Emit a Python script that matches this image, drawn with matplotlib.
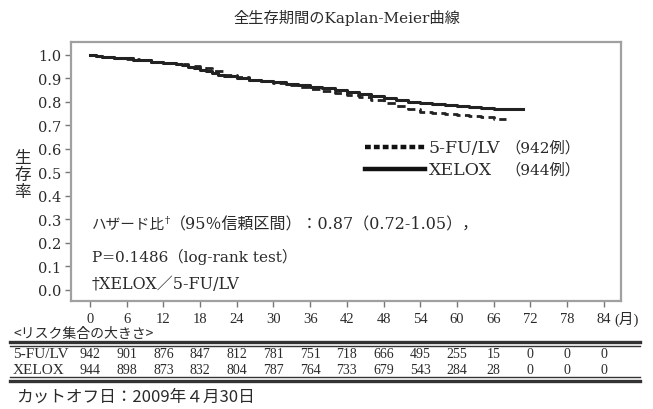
import matplotlib
matplotlib.use("Agg")
import matplotlib.pyplot as plt
import matplotlib.transforms as mtransforms
from matplotlib.lines import Line2D

plt.rcParams['font.family'] = ['DejaVu Serif', 'Noto Sans CJK JP', 'DejaVu Sans']
plt.rcParams['axes.unicode_minus'] = False
NARROW = ['Liberation Serif', 'Noto Sans CJK JP']
CJK = ['Noto Sans CJK JP', 'DejaVu Sans']

# 生存曲線 (読み取り値)
xelox_t = [0, 1, 2, 4, 6, 7, 8, 10, 12, 14, 15, 16, 17, 18, 19, 20, 21, 22, 24, 26,
           28, 30, 32, 34, 36, 38, 40, 42, 44, 46, 48, 50, 52, 54, 56, 58, 60, 62,
           64, 66, 70.8]
xelox_s = [1.0, .992, .988, .986, .984, .978, .975, .970, .966, .960, .955, .948, .942,
           .935, .928, .921, .915, .908, .901, .893, .887, .882, .876, .872, .864, .857,
           .850, .842, .834, .825, .816, .806, .797, .792, .788, .785, .781, .776, .772,
           .770, .770]
fulv_t = [0, 1, 2, 4, 6, 8, 10, 12, 14, 16, 18, 20, 22, 24, 26, 28, 30, 32, 34, 36,
          38, 40, 42, 44, 46, 48, 50, 52, 54, 56, 58, 60, 62, 64, 66, 68]
fulv_s = [1.0, .992, .988, .985, .982, .976, .970, .965, .960, .953, .943, .932, .915,
          .904, .893, .886, .880, .870, .862, .855, .847, .838, .829, .818, .806, .794,
          .781, .767, .757, .752, .748, .744, .740, .733, .727, .727]

# リスク集合
risk_months = [0, 6, 12, 18, 24, 30, 36, 42, 48, 54, 60, 66, 72, 78, 84]
risk_fulv = [942, 901, 876, 847, 812, 781, 751, 718, 666, 495, 255, 15, 0, 0, 0]
risk_xelox = [944, 898, 873, 832, 804, 787, 764, 733, 679, 543, 284, 28, 0, 0, 0]
y_ticks = [0.0, 0.1, 0.2, 0.3, 0.4, 0.5, 0.6, 0.7, 0.8, 0.9, 1.0]

txt = "#2a2a2a"
fig = plt.figure(figsize=(6.53, 4.10), dpi=100)
ax = fig.add_axes([0.1087, 0.2634, 0.842, 0.631])

ax.plot(fulv_t, fulv_s, drawstyle="steps-post", color="#222222", lw=2.0,
        linestyle=(0, (3.0, 1.6)))
ax.plot(xelox_t, xelox_s, drawstyle="steps-post", color="#222222", lw=2.2)

ax.set_xlim(-3.1, 86.8)
ax.set_ylim(-0.048, 1.052)
ax.set_xticks(risk_months)
ax.set_xticklabels([str(m) for m in risk_months], family=NARROW, fontsize=10.5)
ax.set_yticks(y_ticks)
ax.set_yticklabels(["%.1f" % v for v in y_ticks], fontsize=10.5)
ax.tick_params(direction="out", length=4, width=1, color="#777777",
               labelcolor=txt, pad=3)
ax.tick_params(axis="x", pad=4)
for sp in ax.spines.values():
    sp.set_color("#a0a0a0")
    sp.set_linewidth(1.6)

fig.text(0.531, 0.955, "全生存期間のKaplan-Meier曲線", ha="center", va="center",
         fontsize=11, color=txt)
fig.text(0.035, 0.571, "生\n存\n率", ha="center", va="center", fontsize=12,
         color=txt, linespacing=1.0, family=CJK)

# 凡例
ax.add_line(Line2D([0.535, 0.644], [0.595, 0.595], transform=ax.transAxes,
                   color="#111111", lw=3.2, linestyle=(0, (1.3, 0.7))))
ax.add_line(Line2D([0.535, 0.644], [0.51, 0.51], transform=ax.transAxes,
                   color="#111111", lw=3.2))
ax.text(0.651, 0.595, "5-FU/LV", transform=ax.transAxes, va="center", fontsize=12.5, color=txt)
ax.text(0.651, 0.51, "XELOX", transform=ax.transAxes, va="center", fontsize=12.5, color=txt)
ax.text(0.79, 0.595, "（942例）", transform=ax.transAxes, va="center", fontsize=11, color=txt)
ax.text(0.79, 0.51, "（944例）", transform=ax.transAxes, va="center", fontsize=11, color=txt)

# 注釈
t1 = ax.text(0.038, 0.298, "ハザード比", transform=ax.transAxes,
             va="center", fontsize=10.5, color=txt)
t2 = ax.annotate("†", xy=(1, 0.85), xycoords=t1, va="center", ha="left",
                 fontsize=7.5, color=txt)
ax.annotate("（95％信頼区間）：0.87（0.72-1.05），", xy=(1, 0.5), xycoords=(t2, t1),
            va="center", ha="left", fontsize=11.5, color=txt)
ax.text(0.038, 0.174, "P=0.1486（log-rank test）", transform=ax.transAxes,
        va="center", fontsize=11, color=txt)
ax.text(0.038, 0.066, "†XELOX／5-FU/LV", transform=ax.transAxes,
        va="center", fontsize=11.5, color=txt)

# リスク集合の表
trans = mtransforms.blended_transform_factory(ax.transData, fig.transFigure)
fig.text(85.8, 1 - 319 / 410, "(月)", transform=trans, ha="left", va="center",
         fontsize=10.5, color=txt, family=NARROW)
fig.text(0.02, 1 - 334 / 410, "<リスク集合の大きさ>", ha="left", va="center",
         fontsize=10, color=txt, family=CJK)
fig.text(0.02, 1 - 355 / 410, "5-FU/LV", ha="left", va="center", fontsize=11,
         color=txt, family=NARROW)
fig.text(0.02, 1 - 371 / 410, "XELOX", ha="left", va="center", fontsize=11,
         color=txt, family=NARROW)
for m, a, b in zip(risk_months, risk_fulv, risk_xelox):
    fig.text(m, 1 - 355 / 410, str(a), transform=trans, ha="center", va="center",
             fontsize=10, color=txt, family=NARROW)
    fig.text(m, 1 - 371 / 410, str(b), transform=trans, ha="center", va="center",
             fontsize=10, color=txt, family=NARROW)

for yy, lw in [(343, 2.4), (346.5, 1.0), (378, 1.0), (381.5, 2.4)]:
    fig.add_artist(Line2D([0.015, 0.98], [1 - yy / 410, 1 - yy / 410],
                          transform=fig.transFigure, color="#333333", lw=lw))

fig.text(0.025, 1 - 397 / 410, "カットオフ日：2009年４月30日", ha="left", va="center",
         fontsize=12, color=txt, family=CJK)

fig.savefig("out.png", dpi=100)
